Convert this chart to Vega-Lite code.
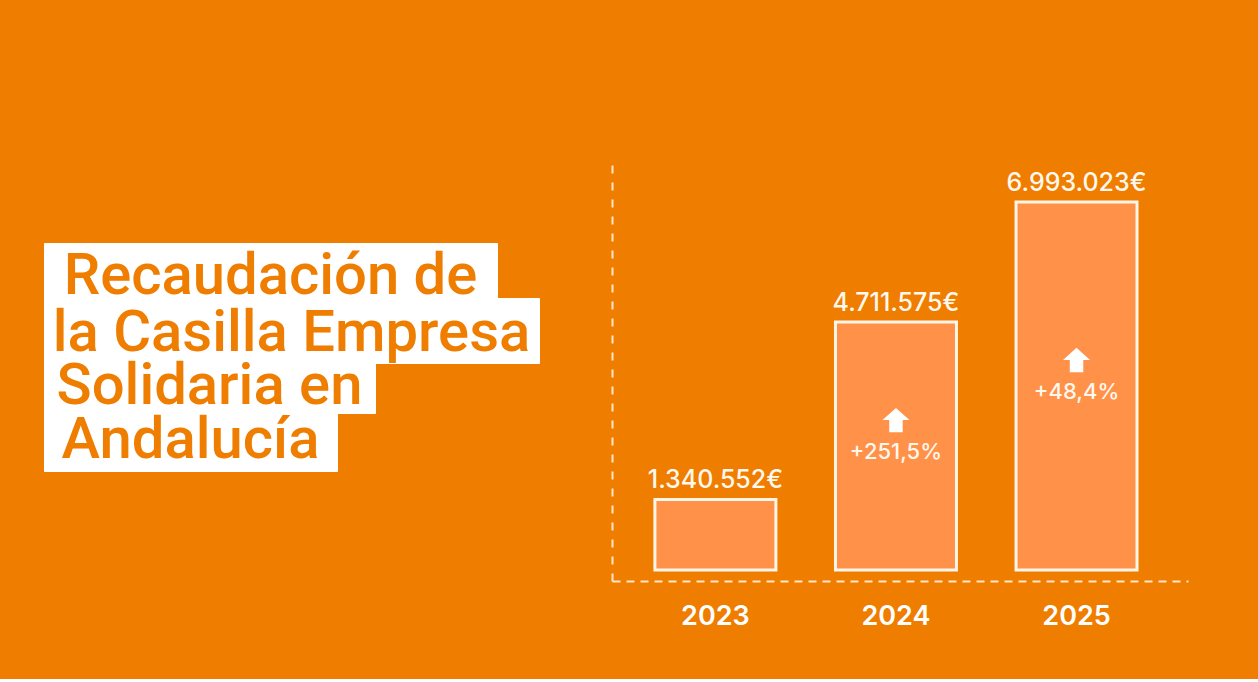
{
  "$schema": "https://vega.github.io/schema/vega-lite/v6.json",
  "background": "#EF7D00",
  "padding": {"left": 43, "top": 157, "right": 70, "bottom": 50},
  "config": {"view": {"stroke": null}, "font": "Inter"},
  "spacing": 72,
  "hconcat": [
    {
      "spacing": 0,
      "bounds": "flush",
      "vconcat": [
        {
          "width": 10, "height": 86,
          "data": {"values": [{"t": ""}]},
          "mark": {"type": "text"},
          "encoding": {"text": {"field": "t"}}
        },
        {
          "width": 453, "height": 55,
          "view": {"fill": "#FFFFFF", "stroke": "#FFFFFF", "strokeWidth": 1},
          "data": {"values": [{"t": "Recaudación de"}]},
          "mark": {"type": "text", "font": "Roboto", "fontSize": 58, "fontWeight": 500, "color": "#EF7D00", "baseline": "middle", "dy": 6},
          "encoding": {"text": {"field": "t"}}
        },
        {
          "width": 495, "height": 65,
          "view": {"fill": "#FFFFFF", "stroke": "#FFFFFF", "strokeWidth": 1},
          "data": {"values": [{"t": "la Casilla Empresa"}]},
          "mark": {"type": "text", "font": "Roboto", "fontSize": 58, "fontWeight": 500, "color": "#EF7D00", "baseline": "middle", "dy": 3},
          "encoding": {"text": {"field": "t"}}
        },
        {
          "width": 331, "height": 50,
          "view": {"fill": "#FFFFFF", "stroke": "#FFFFFF", "strokeWidth": 1},
          "data": {"values": [{"t": "Solidaria en"}]},
          "mark": {"type": "text", "font": "Roboto", "fontSize": 58, "fontWeight": 500, "color": "#EF7D00", "baseline": "middle", "dy": -1},
          "encoding": {"text": {"field": "t"}}
        },
        {
          "width": 293, "height": 58,
          "view": {"fill": "#FFFFFF", "stroke": "#FFFFFF", "strokeWidth": 1},
          "data": {"values": [{"t": "Andalucía"}]},
          "mark": {"type": "text", "font": "Roboto", "fontSize": 58, "fontWeight": 500, "color": "#EF7D00", "baseline": "middle", "dy": -1},
          "encoding": {"text": {"field": "t"}}
        }
      ]
    },
    {
      "width": 576,
      "height": 424,
      "data": {"values": [
        {"year": "2023", "value": 1340552, "label": "1.340.552€", "pct": null},
        {"year": "2024", "value": 4711575, "label": "4.711.575€", "pct": "+251,5%"},
        {"year": "2025", "value": 6993023, "label": "6.993.023€", "pct": "+48,4%"}
      ]},
      "encoding": {
        "x": {
          "field": "year", "type": "ordinal",
          "scale": {"paddingInner": 0.33, "paddingOuter": 0.26, "align": 0.457},
          "axis": {
            "title": null, "labelAngle": 0, "ticks": false,
            "domainColor": "#FFE6C8", "domainWidth": 2, "domainDash": [8, 6],
            "labelColor": "#FFFFFF", "labelFont": "Inter", "labelFontSize": 27, "labelFontWeight": 600,
            "labelPadding": 22
          }
        }
      },
      "layer": [
        {
          "mark": {"type": "bar", "fill": "#FF9148", "stroke": "#FFF6EA", "strokeWidth": 3},
          "encoding": {
            "y": {
              "field": "value", "type": "quantitative",
              "scale": {"domain": [-210000, 7850000], "nice": false, "zero": false},
              "axis": {"title": null, "labels": false, "ticks": false, "grid": false,
                       "domainColor": "#FFE6C8", "domainWidth": 2, "domainDash": [8, 9]}
            },
            "y2": {"datum": 0}
          }
        },
        {
          "mark": {"type": "text", "baseline": "alphabetic", "dy": -11, "font": "Inter", "fontSize": 25, "fontWeight": 500, "color": "#FFF8EE"},
          "encoding": {
            "y": {"field": "value", "type": "quantitative", "scale": {"domain": [-210000, 7850000], "nice": false, "zero": false}, "axis": null},
            "text": {"field": "label"}
          }
        },
        {
          "transform": [{"filter": "datum.pct != null"}],
          "mark": {"type": "text", "baseline": "middle", "yOffset": 6, "font": "Inter", "fontSize": 22, "fontWeight": 500, "color": "#FFF8EE"},
          "encoding": {
            "y": {"field": "value", "type": "quantitative", "scale": {"domain": [-420000, 15700000], "nice": false, "zero": false}, "axis": null},
            "text": {"field": "pct"}
          }
        },
        {
          "transform": [{"filter": "datum.pct != null"}],
          "mark": {"type": "point", "shape": "M0,-0.9L1,0L0.5,0L0.5,0.9L-0.5,0.9L-0.5,0L-1,0Z", "filled": true, "size": 729, "opacity": 1, "color": "#FFFFFF", "yOffset": -26},
          "encoding": {
            "y": {"field": "value", "type": "quantitative", "scale": {"domain": [-420000, 15700000], "nice": false, "zero": false}, "axis": null}
          }
        }
      ],
      "resolve": {"scale": {"y": "independent"}}
    }
  ]
}
